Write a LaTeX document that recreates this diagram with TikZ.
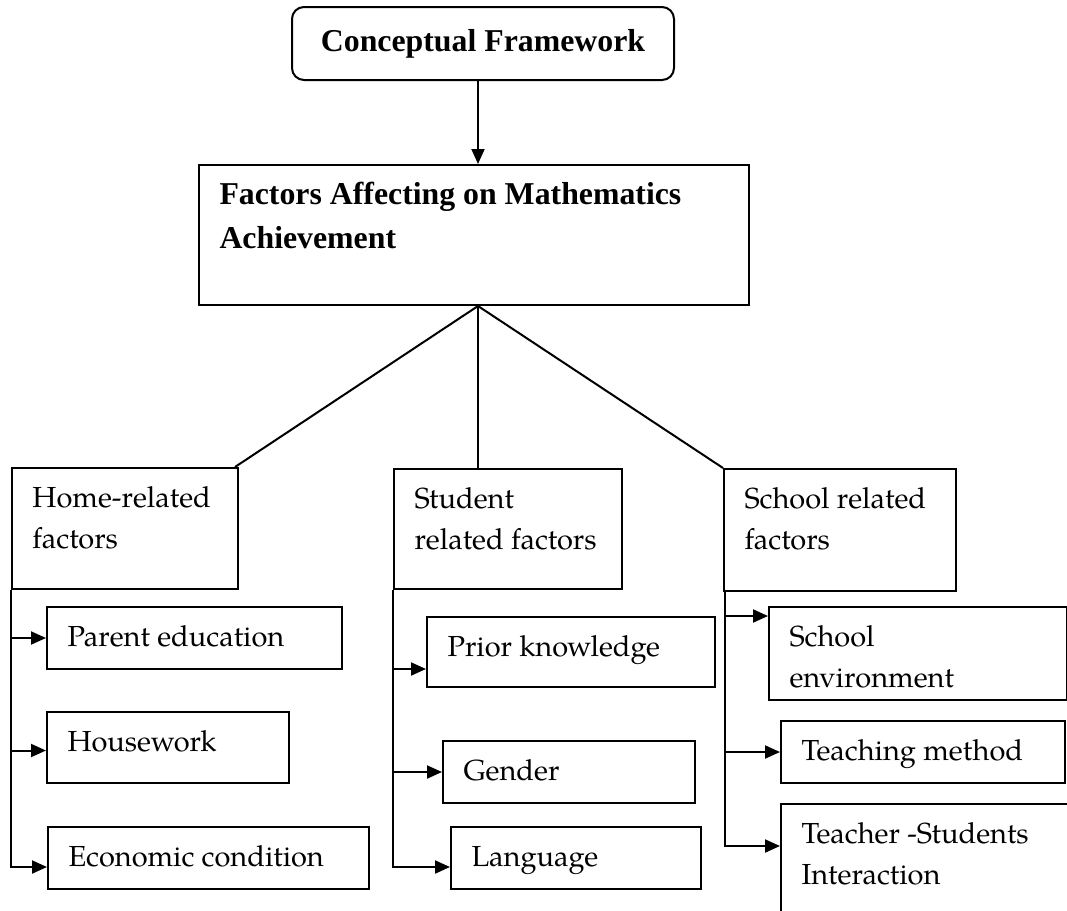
\documentclass[tikz,border=0pt]{standalone}
\usepackage{fontspec}
\setmainfont{TeX Gyre Pagella}
\newfontfamily\titlefont{Liberation Serif}
\usetikzlibrary{arrows.meta, positioning}

\tikzstyle{block} = [rectangle, draw=black, line width=2pt, inner sep=0pt, anchor=north west, font=\fontsize{29}{41.5}\selectfont]
\tikzstyle{headblock} = [rectangle, draw=black, line width=2pt, inner sep=0pt, font=\titlefont\bfseries\fontsize{31.8}{44}\selectfont]
\tikzstyle{arrow} = [line width=2pt,->,>={Triangle[length=15pt,width=13pt]}]
\tikzstyle{link} = [line width=2pt]

% text at the top left of a box: width, height, text
\newcommand{\boxtext}[3]{\parbox[c][#2][t]{#1}{\raggedright\leftskip=20.5pt\vspace*{\dimexpr39pt-\ht\strutbox\relax}\strut#3}}

\begin{document}
\begin{tikzpicture}[x=1pt,y=1pt]

    \path[fill=white] (0,0) rectangle (1067,-910);
    \useasboundingbox (0,0) rectangle (1067,-910);

    % Title block
    \node (concept) [headblock, rounded corners=12pt, minimum width=382pt, minimum height=73pt] at (483,-43.5) {Conceptual Framework};

    % Main block
    \node (factors) [headblock, below=83pt of concept.south, xshift=-9pt] {\boxtext{550pt}{140pt}{Factors Affecting on Mathematics\\Achievement}};
    \coordinate (hub) at ([xshift=4pt]factors.south);

    % Three groups of factors
    \node (home) [block] at (11,-467) {\boxtext{226pt}{121pt}{Home-related\\factors}};
    \node (student) [block] at (393,-468) {\boxtext{228pt}{120pt}{Student\\related factors}};
    \node (school) [block] at (723,-468) {\boxtext{232pt}{122pt}{School related\\factors}};

    % Home-related factors
    \node (parent) [block] at (46,-606) {\boxtext{295pt}{62pt}{Parent education}};
    \node (housework) [block] at (46,-711) {\boxtext{242pt}{71pt}{Housework}};
    \node (economic) [block] at (47,-826) {\boxtext{321pt}{62pt}{Economic condition}};

    % Student related factors
    \node (prior) [block] at (426,-616) {\boxtext{288pt}{70pt}{Prior knowledge}};
    \node (gender) [block] at (442,-740) {\boxtext{252pt}{62pt}{Gender}};
    \node (language) [block] at (450,-826) {\boxtext{250pt}{62pt}{Language}};

    % School related factors
    \node (environment) [block] at (768,-606) {\boxtext{298pt}{93pt}{School\\environment}};
    \node (teaching) [block] at (780,-720) {\boxtext{284pt}{62pt}{Teaching method}};
    \node (interaction) [block] at (780,-803) {\boxtext{288pt}{108pt}{Teacher -Students\\Interaction}};

    \draw [arrow] (concept.south -| hub) -- (factors.north -| hub);
    \draw [link] (hub) -- ([xshift=-4pt]home.north east);
    \draw [link] (hub) -- (hub |- student.north);
    \draw [link] (hub) -- (school.north west);

    \draw [arrow] (home.south west) |- ([yshift=-9pt]economic.west);
    \draw [arrow] (parent.west -| home.south west) -- (parent.west);
    \draw [arrow] ([yshift=-3pt]housework.west -| home.south west) -- ([yshift=-3pt]housework.west);

    \draw [arrow] (student.south west) |- ([yshift=-9pt]language.west);
    \draw [arrow] ([yshift=-17pt]prior.west -| student.south west) -- ([yshift=-17pt]prior.west);
    \draw [arrow] (gender.west -| student.south west) -- (gender.west);

    \coordinate (schoolbus) at ([xshift=2pt]school.south west);
    \draw [arrow] (schoolbus) |- ([yshift=-43pt]interaction.north west);
    \draw [arrow] ([yshift=-10pt]environment.north west -| schoolbus) -- ([yshift=-10pt]environment.north west);
    \draw [arrow] (teaching.west -| schoolbus) -- (teaching.west);

\end{tikzpicture}
\end{document}
